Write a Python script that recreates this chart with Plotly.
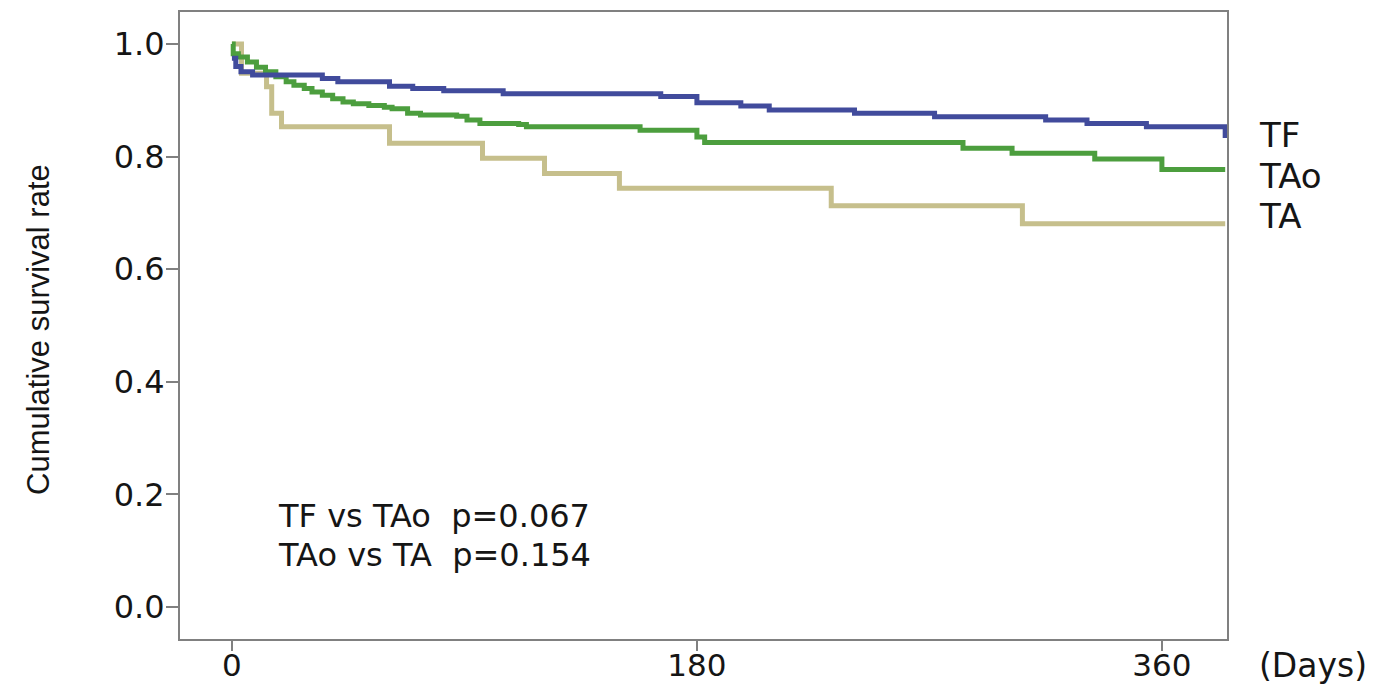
import plotly.graph_objects as go

# Kaplan-Meier style step data (days, cumulative survival)
tf_days = [0, 1.5, 3.5, 8, 35, 41, 61, 70, 82, 105, 166, 180, 197, 208, 241, 272, 315, 331, 354, 384.5]
tf_surv = [0.975, 0.960, 0.951, 0.945, 0.939, 0.933, 0.925, 0.921, 0.917, 0.912, 0.907, 0.896, 0.890, 0.883,
           0.877, 0.871, 0.865, 0.859, 0.853, 0.833]

tao_days = [0, 0.5, 2.5, 6, 9.5, 13, 17, 21, 24, 28, 31, 35, 39, 43, 47, 53, 59, 62, 68, 73, 87, 91, 96,
            111, 114, 158, 180, 183, 283, 302, 334, 360, 384.5]
tao_surv = [1.0, 0.983, 0.977, 0.968, 0.959, 0.951, 0.942, 0.933, 0.927, 0.921, 0.915, 0.909, 0.903, 0.897,
            0.894, 0.891, 0.888, 0.885, 0.877, 0.874, 0.872, 0.865, 0.859, 0.857, 0.853, 0.847, 0.835, 0.825,
            0.815, 0.806, 0.796, 0.777, 0.777]

ta_days = [0, 3.7, 13.4, 15.4, 19.2, 61, 97, 121, 150, 232, 306, 384.5]
ta_surv = [1.0, 0.948, 0.924, 0.877, 0.853, 0.824, 0.797, 0.770, 0.744, 0.713, 0.681, 0.681]

x_ticks = [0, 180, 360]
y_ticks = [0.0, 0.2, 0.4, 0.6, 0.8, 1.0]
y_tick_text = ["0.0", "0.2", "0.4", "0.6", "0.8", "1.0"]

group_labels = ["TF", "TAo", "TA"]
label_y = [0.838, 0.766, 0.694]
p_lines = ["TF vs TAo\u00a0\u00a0p=0.067", "TAo vs TA\u00a0\u00a0p=0.154"]
p_y = [0.162, 0.093]

colors = {"TF": "#414b9c", "TAo": "#4c9e3e", "TA": "#c6bf8c"}
txt_col = "#151515"

fig = go.Figure()
fig.add_trace(go.Scatter(x=ta_days, y=ta_surv, mode="lines", line=dict(shape="hv", color=colors["TA"], width=5),
                         name="TA", showlegend=False, hoverinfo="skip"))
fig.add_trace(go.Scatter(x=tao_days, y=tao_surv, mode="lines", line=dict(shape="hv", color=colors["TAo"], width=5),
                         name="TAo", showlegend=False, hoverinfo="skip"))
fig.add_trace(go.Scatter(x=tf_days, y=tf_surv, mode="lines", line=dict(shape="hv", color=colors["TF"], width=5),
                         name="TF", showlegend=False, hoverinfo="skip"))

font_main = "DejaVu Sans, Liberation Sans, Arial, sans-serif"

for lab, yy in zip(group_labels, label_y):
    fig.add_annotation(x=1.029, xref="paper", y=yy, yref="y", text=lab, showarrow=False,
                       xanchor="left", yanchor="middle", font=dict(family=font_main, size=34, color=txt_col))

for txt, yy in zip(p_lines, p_y):
    fig.add_annotation(x=17.0, xref="x", y=yy, yref="y", text=txt, showarrow=False,
                       xanchor="left", yanchor="middle", font=dict(family=font_main, size=32, color=txt_col))

fig.add_annotation(x=1.029, xref="paper", y=(639 - 666) / 627, yref="paper", text="(Days)", showarrow=False,
                   xanchor="left", yanchor="middle", font=dict(family=font_main, size=33, color=txt_col))

fig.add_annotation(x=(38 - 180) / 1047, xref="paper", y=(639 - 330) / 627, yref="paper",
                   text="Cumulative survival rate", textangle=-90, showarrow=False,
                   xanchor="center", yanchor="middle",
                   font=dict(family="Liberation Sans, Arial, sans-serif", size=31, color=txt_col))

fig.update_layout(
    width=1390, height=684,
    margin=dict(l=180, r=163, t=12, b=45),
    paper_bgcolor="white", plot_bgcolor="white",
    xaxis=dict(range=[-20.1, 385.2], tickvals=x_ticks, ticks="outside", ticklen=10, tickwidth=2,
               tickcolor="#808080", showline=True, linecolor="#808080", linewidth=2, mirror=True,
               showgrid=False, zeroline=False, automargin=False, ticklabelstandoff=-12,
               tickfont=dict(family=font_main, size=31, color=txt_col)),
    yaxis=dict(range=[-0.0568, 1.057], tickvals=y_ticks, ticktext=y_tick_text, ticks="outside", ticklen=12,
               tickwidth=2, tickcolor="#808080", showline=True, linecolor="#808080", linewidth=2, mirror=True,
               showgrid=False, zeroline=False, automargin=False, ticklabelstandoff=-5,
               tickfont=dict(family=font_main, size=32, color=txt_col)),
)

fig.write_html("out.html")
